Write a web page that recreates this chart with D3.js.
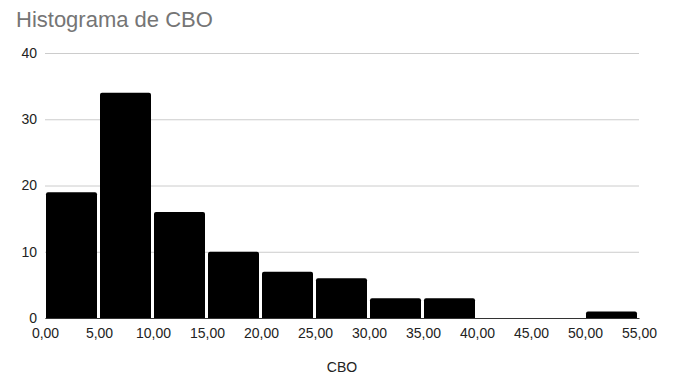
<!DOCTYPE html>
<html><head><meta charset="utf-8">
<script src="https://cdn.jsdelivr.net/npm/d3@7"></script>
<style>body{margin:0;background:#fff}svg{display:block}</style>
</head><body>
<svg id="c" width="673" height="377"></svg>
<script>
const binStarts = [0,5,10,15,20,25,30,35,40,45,50];
const binWidth = 5;
const counts = [19,34,16,10,7,6,3,3,0,0,1];
const xTicks = [0,5,10,15,20,25,30,35,40,45,50,55];
const yTicks = [0,10,20,30,40];
const title = "Histograma de CBO";
const xTitle = "CBO";

const svg = d3.select("#c");
const font = "Arial, 'Liberation Sans', sans-serif";
const x = d3.scaleLinear().domain([0,55]).range([45,639]);
const y = d3.scaleLinear().domain([0,40]).range([318,53]);

svg.append("text").attr("x",16).attr("y",27).attr("font-family",font)
  .attr("font-size",22).attr("fill","#757575").text(title);

const yAxis = d3.axisLeft(y).tickValues(yTicks).tickSize(-(639-45)).tickPadding(8).tickFormat(d3.format("d"));
const gy = svg.append("g").attr("transform","translate(45,0)").call(yAxis);
gy.select(".domain").remove();
gy.selectAll(".tick line").attr("stroke","#cccccc").attr("stroke-width",1);
gy.selectAll(".tick text").attr("font-family",font).attr("font-size",14).attr("fill","#222");

svg.append("g").selectAll("path").data(binStarts.map((s,i)=>({s, c:counts[i]})).filter(d=>d.c>0))
  .join("path").attr("fill","#000")
  .attr("d", d => {
    const x0 = x(d.s)+1, x1 = x(d.s+binWidth)-2, y0 = y(0), y1 = y(d.c), r = 2;
    return `M${x0},${y0}V${y1+r}Q${x0},${y1} ${x0+r},${y1}H${x1-r}Q${x1},${y1} ${x1},${y1+r}V${y0}Z`;
  });

const xAxis = d3.axisBottom(x).tickValues(xTicks).tickSize(0).tickPadding(10)
  .tickFormat(d => d3.format(".2f")(d).replace(".",","));
const gx = svg.append("g").attr("transform","translate(0,318)").call(xAxis);
gx.select(".domain").attr("stroke","#333").attr("stroke-width",1);
gx.selectAll(".tick text").attr("font-family",font).attr("font-size",14).attr("fill","#222");

svg.append("text").attr("x",342).attr("y",372).attr("text-anchor","middle")
  .attr("font-family",font).attr("font-size",14).attr("fill","#222").text(xTitle);
</script>
</body></html>
